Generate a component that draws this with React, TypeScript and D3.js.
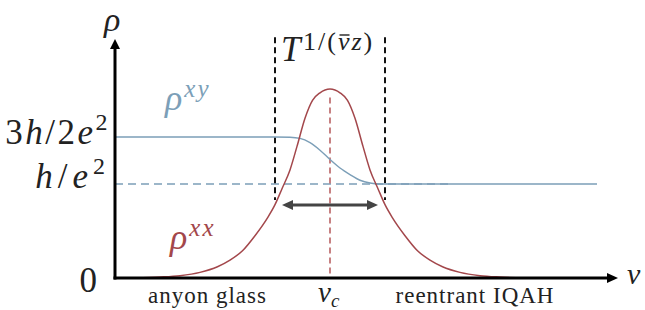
import React from 'react';
import * as d3 from 'd3';

// nu (in units of distance from nu_c), rho (in units of h/e^2)
const rhoXXNu = [-3.9, -3.4, -3.0, -2.6, -2.25, -2.0, -1.75, -1.5, -1.25, -1.1, -0.96, -0.8, -0.66, -0.5, -0.35, -0.2, 0, 0.2, 0.35, 0.5, 0.66, 0.8, 0.96, 1.1, 1.25, 1.5, 1.75, 2.0, 2.25, 2.6, 3.0, 3.4, 3.9];
const rhoXXVal = [0.0, 0.01, 0.025, 0.06, 0.12, 0.19, 0.29, 0.45, 0.64, 0.78, 0.95, 1.15, 1.4, 1.7, 1.89, 1.97, 2.01, 1.97, 1.89, 1.7, 1.4, 1.15, 0.95, 0.78, 0.64, 0.45, 0.29, 0.19, 0.12, 0.06, 0.025, 0.01, 0.0];

const rhoXYNu = [-4.28, -1.1, -0.8, -0.6, -0.4, -0.2, 0, 0.2, 0.4, 0.6, 0.8, 1.0, 5.34];
const rhoXYVal = [1.5, 1.5, 1.497, 1.485, 1.44, 1.36, 1.26, 1.17, 1.1, 1.04, 1.01, 1.0, 1.0];

const regionLabels = ['anyon glass', 'reentrant IQAH'];
const regionPos = [-2.45, 2.9];
const windowEdges = [-1.1, 1.1];

const W = 645;
const H = 310;

const blue = '#7c9fb8';
const red = '#a3474b';
const ink = '#222';
const tx = { fontFamily: "'Liberation Serif'" };

const App: React.FC = () => {
  const x = d3.scaleLinear().domain([-4.28, 5.76]).range([116, 618]);
  const y = d3.scaleLinear().domain([0, 240 / 94]).range([278, 38]);

  const xx = rhoXXNu.map((n, i) => [n, rhoXXVal[i]] as [number, number]);
  const xy = rhoXYNu.map((n, i) => [n, rhoXYVal[i]] as [number, number]);

  const line = d3.line<[number, number]>()
    .x(d => x(d[0]))
    .y(d => y(d[1]))
    .curve(d3.curveMonotoneX);

  const x0 = x.range()[0] - 1;
  const y0 = y.range()[0];
  const xEnd = x.range()[1];
  const yEnd = y.range()[1] + 1;

  const arrowY = y(0.777);

  return (
    <svg width={W} height={H} style={{ position: 'absolute', left: 0, top: 0, background: '#fff' }}>
      {/* rho_xy plateau reference */}
      <line x1={x0} x2={x(2.4)} y1={y(1)} y2={y(1)} stroke={blue} strokeWidth={1.5} strokeDasharray="8,5" />

      {/* scaling window */}
      {windowEdges.map((e, i) => (
        <line key={i} x1={x(e)} x2={x(e)} y1={y(2.56)} y2={y(0.83)} stroke="#111" strokeWidth={2} strokeDasharray="6,4" />
      ))}

      {/* nu_c marker */}
      <line x1={x(0)} x2={x(0)} y1={y(1.92)} y2={y0} stroke="#b5585a" strokeWidth={1.5} strokeDasharray="6,4" />

      <path d={line(xy) || ''} fill="none" stroke={blue} strokeWidth={1.4} />
      <path d={line(xx) || ''} fill="none" stroke={red} strokeWidth={1.5} />

      {/* width arrow */}
      <line x1={x(-0.96) + 8} x2={x(0.96) - 8} y1={arrowY} y2={arrowY} stroke="#444" strokeWidth={3} />
      <polygon points={`${x(-0.96)},${arrowY} ${x(-0.96) + 11},${arrowY - 5} ${x(-0.96) + 11},${arrowY + 5}`} fill="#444" />
      <polygon points={`${x(0.96)},${arrowY} ${x(0.96) - 11},${arrowY - 5} ${x(0.96) - 11},${arrowY + 5}`} fill="#444" />

      {/* axes */}
      <line x1={x0} x2={x0} y1={y0 + 1.5} y2={yEnd + 8} stroke="#000" strokeWidth={3} />
      <polygon points={`${x0},${yEnd} ${x0 - 5},${yEnd + 10} ${x0 + 5},${yEnd + 10}`} fill="#000" />
      <line x1={x0 - 1.5} x2={xEnd - 8} y1={y0} y2={y0} stroke="#000" strokeWidth={3} />
      <polygon points={`${xEnd},${y0} ${xEnd - 11},${y0 - 5} ${xEnd - 11},${y0 + 5}`} fill="#000" />

      <text x={104} y={31} fontSize={34} fontStyle="italic" fill={ink} style={tx}>ρ</text>
      <text x={627} y={284} fontSize={30} fontStyle="italic" fill={ink} style={tx}>ν</text>

      {/* y tick labels */}
      <text x={110} y={y(1.5) + 7} fontSize={35} textAnchor="end" letterSpacing={2.5} fill={ink} style={tx}>
        3<tspan fontStyle="italic">h</tspan>/2<tspan fontStyle="italic">e</tspan><tspan fontSize={24} dy={-14}>2</tspan>
      </text>
      <text x={110} y={y(1) + 4} fontSize={35} textAnchor="end" letterSpacing={5} fill={ink} style={tx}>
        <tspan fontStyle="italic">h</tspan>/<tspan fontStyle="italic">e</tspan><tspan fontSize={24} dy={-14}>2</tspan>
      </text>
      <text x={97} y={y(0) + 14} fontSize={35} textAnchor="end" fill={ink} style={tx}>0</text>

      {/* curve labels */}
      <text x={165} y={110} fontSize={36} fontStyle="italic" fill={blue} style={tx}>
        ρ<tspan fontSize={25} dy={-13} dx={2} letterSpacing={2}>xy</tspan>
      </text>
      <text x={170} y={249} fontSize={36} fontStyle="italic" fill={red} style={tx}>
        ρ<tspan fontSize={25} dy={-13} dx={2} letterSpacing={2}>xx</tspan>
      </text>

      {/* T^{1/(nu-bar z)} */}
      <text x={281} y={61} fontSize={35} fontStyle="italic" fill={ink} style={tx}>T</text>
      <text x={303} y={50} fontSize={26} letterSpacing={2} fill={ink} style={tx}>
        1/(<tspan fontStyle="italic">νz</tspan>)
      </text>
      <line x1={339.5} x2={349.5} y1={35} y2={35} stroke={ink} strokeWidth={1.4} />

      {/* x labels */}
      {regionLabels.map((l, i) => (
        <text key={l} x={x(regionPos[i])} y={303} fontSize={23} textAnchor="middle" letterSpacing={1} fill={ink} style={tx}>{l}</text>
      ))}
      <text x={x(0) - 12} y={302} fontSize={29} fontStyle="italic" fill={ink} style={tx}>
        ν<tspan fontSize={19} dy={5}>c</tspan>
      </text>
    </svg>
  );
};

export default App;
